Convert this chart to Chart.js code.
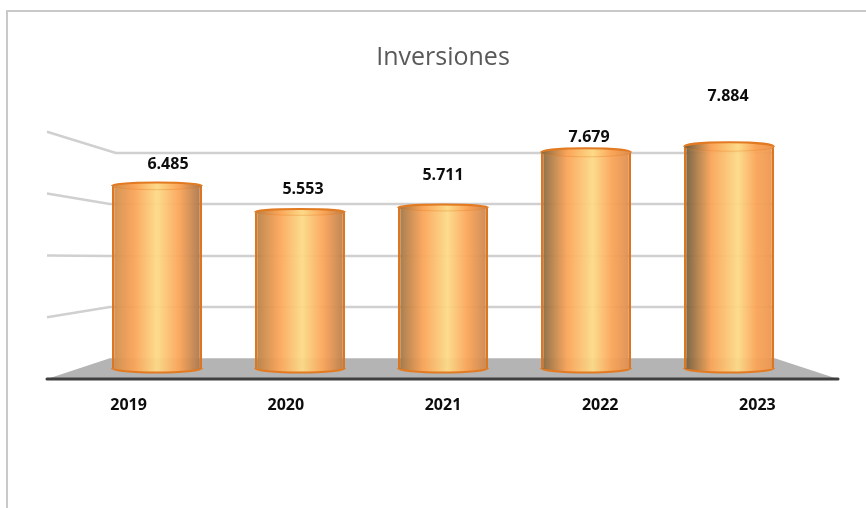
<!DOCTYPE html>
<html>
<head>
<meta charset="utf-8">
<title>Inversiones</title>
<script src="https://cdn.jsdelivr.net/npm/chart.js@4/dist/chart.umd.min.js"></script>
<style>
    html, body { margin: 0; padding: 0; background: #fff; overflow: hidden; }
    #app { position: relative; width: 866px; height: 508px; }
    #frame { position: absolute; left: 6px; top: 10px; right: 0; bottom: 0; border-left: 2px solid #c9c9c9; border-top: 2px solid #c9c9c9; }
    canvas { position: absolute; left: 0; top: 0; }
</style>
</head>
<body>
<div id="app">
    <div id="frame"></div>
    <canvas id="chart" width="866" height="508"></canvas>
</div>
<script>
const years = ['2019', '2020', '2021', '2022', '2023'];
const inversiones = [6485, 5553, 5711, 7679, 7884];
const wallTicks = [2000, 4000, 6000, 8000];

// labels were hand-placed in the original, they don't sit at a fixed gap
const labelShiftX = [11, 3, 0, 3, -1];
const labelLift = [22, 23, 32, 15, 50];

const fmt = (v) => v.toLocaleString('es-ES', { useGrouping: 'always' });

// cylinder shading, the dark side moves from right to left across the chart
function barGradient(ctx, xc, hw, idx, alpha) {
    const t = idx / (years.length - 1);
    const leftDark = [205 - 100 * t, 140 - 50 * t, 75 - 15 * t];
    const rightDark = [165 + 70 * t, 115 + 35 * t, 75 + 5 * t];
    const rgba = (c) => `rgba(${Math.round(c[0])}, ${Math.round(c[1])}, ${Math.round(c[2])}, ${alpha})`;
    const mid = 0.5 + 0.1 * t;
    const g = ctx.createLinearGradient(xc - hw, 0, xc + hw, 0);
    g.addColorStop(0, rgba(leftDark));
    g.addColorStop(mid * 0.5, rgba([250, 164, 88]));
    g.addColorStop(mid, rgba([252, 218, 136]));
    g.addColorStop(mid + (1 - mid) * 0.5, rgba([250, 164, 88]));
    g.addColorStop(1, rgba(rightDark));
    return g;
}

const stagePlugin = {
    id: 'stage',
    beforeDatasetsDraw(chart) {
        const { ctx, scales } = chart;
        const { yBack, yFront, xBack, x } = scales;
        const front = yFront.getPixelForValue(0);
        const back = yBack.getPixelForValue(0);
        const frontLeft = x.left - 3;
        const frontRight = x.right + 2;
        const backLeft = xBack.getPixelForValue(-0.33);
        const backRight = xBack.getPixelForValue(4.32);
        const gridRight = xBack.getPixelForValue(4.3);

        ctx.save();
        ctx.fillStyle = '#b4b4b4';
        ctx.beginPath();
        ctx.moveTo(frontLeft, front);
        ctx.lineTo(backLeft, back);
        ctx.lineTo(backRight, back);
        ctx.lineTo(frontRight, front);
        ctx.closePath();
        ctx.fill();

        ctx.strokeStyle = '#d0d0d0';
        ctx.lineWidth = 2.5;
        wallTicks.forEach((v) => {
            const y = Math.round(yBack.getPixelForValue(v));
            ctx.beginPath();
            ctx.moveTo(frontLeft, yFront.getPixelForValue(v));
            ctx.lineTo(backLeft + (v === 8000 ? 6 : 0), y);
            ctx.lineTo(gridRight, y);
            ctx.stroke();
        });

        ctx.strokeStyle = '#3f3f3f';
        ctx.lineWidth = 3;
        ctx.lineCap = 'round';
        ctx.beginPath();
        ctx.moveTo(frontLeft, front);
        ctx.lineTo(frontRight, front);
        ctx.stroke();
        ctx.restore();
    },
    afterDatasetsDraw(chart, args, opts) {
        const { ctx } = chart;
        const meta = chart.getDatasetMeta(0);
        ctx.save();
        meta.data.forEach((bar, i) => {
            const hw = bar.width / 2;
            const ryTop = (bar.base - bar.y) / 50;

            // bottom rim, only the lower half shows
            ctx.beginPath();
            ctx.ellipse(bar.x, bar.base, hw, 4.5, 0, 0, Math.PI);
            ctx.fillStyle = barGradient(ctx, bar.x, hw, i, 0.96);
            ctx.fill();
            ctx.strokeStyle = '#e27a22';
            ctx.lineWidth = 2;
            ctx.stroke();

            // top cap
            ctx.beginPath();
            ctx.ellipse(bar.x, bar.y, hw, ryTop, 0, 0, Math.PI * 2);
            ctx.fillStyle = barGradient(ctx, bar.x, hw, i, 1);
            ctx.fill();
            ctx.beginPath();
            ctx.ellipse(bar.x, bar.y, hw, ryTop, 0, Math.PI, Math.PI * 2);
            ctx.strokeStyle = '#e27a22';
            ctx.lineWidth = 2;
            ctx.stroke();
            ctx.beginPath();
            ctx.ellipse(bar.x, bar.y, hw, ryTop, 0, 0, Math.PI);
            ctx.strokeStyle = 'rgba(226, 122, 34, 0.35)';
            ctx.lineWidth = 1;
            ctx.stroke();

            ctx.fillStyle = '#0d0d0d';
            ctx.font = opts.font;
            ctx.textAlign = 'center';
            ctx.textBaseline = 'middle';
            ctx.fillText(fmt(inversiones[i]), bar.x + labelShiftX[i], bar.y - labelLift[i]);
        });
        ctx.restore();
    }
};

new Chart(document.getElementById('chart').getContext('2d'), {
    type: 'bar',
    data: {
        labels: years,
        datasets: [{
            label: 'Inversiones',
            data: inversiones.map((v, i) => ({ x: i, y: v })),
            xAxisID: 'xBack',
            yAxisID: 'y',
            barPercentage: 0.63,
            categoryPercentage: 1,
            backgroundColor: (c) => {
                const xc = c.chart.scales.xBack ? c.chart.scales.xBack.getPixelForValue(c.dataIndex) : NaN;
                // scales aren't laid out on the first pass
                if (!Number.isFinite(xc)) return '#f9a860';
                return barGradient(c.chart.ctx, xc, 143 * 0.63 / 2, c.dataIndex, 0.95);
            },
            borderColor: '#dc7620',
            borderWidth: { left: 2.5, right: 2.5, top: 0, bottom: 0 },
            borderSkipped: false
        }]
    },
    options: {
        responsive: false,
        animation: false,
        layout: { padding: { left: 50, right: 30, top: 28, bottom: 96 } },
        plugins: {
            legend: { display: false },
            tooltip: { enabled: false },
            title: {
                display: true,
                text: 'Inversiones',
                color: '#595959',
                font: { family: '"Open Sans", "Noto Sans", sans-serif', size: 25, weight: 'normal' },
                padding: { top: 15, bottom: 27 }
            },
            stage: { font: 'bold 16px "Open Sans", "Noto Sans", sans-serif' }
        },
        scales: {
            x: {
                type: 'category',
                labels: years,
                position: 'bottom',
                offset: true,
                border: { display: false },
                grid: { display: false, drawTicks: false },
                ticks: {
                    padding: 17,
                    color: '#0d0d0d',
                    maxRotation: 0,
                    font: { family: '"Open Sans", "Noto Sans", sans-serif', size: 16, weight: 'bold' }
                },
                afterFit: (scale) => { scale.height = 33; }
            },
            // bars stand on the back of the floor, so they get a narrower spacing than the labels
            xBack: {
                type: 'linear',
                display: false,
                offset: false,
                min: -0.748,
                max: 4.748,
                afterBuildTicks: (scale) => { scale.ticks = years.map((_, i) => ({ value: i })); }
            },
            y: { display: false, min: -392, max: 9551 },
            yBack: { display: false, min: -806, max: 10062 },
            yFront: { display: false, min: 0, max: 9029 }
        }
    },
    plugins: [stagePlugin]
});
</script>
</body>
</html>
